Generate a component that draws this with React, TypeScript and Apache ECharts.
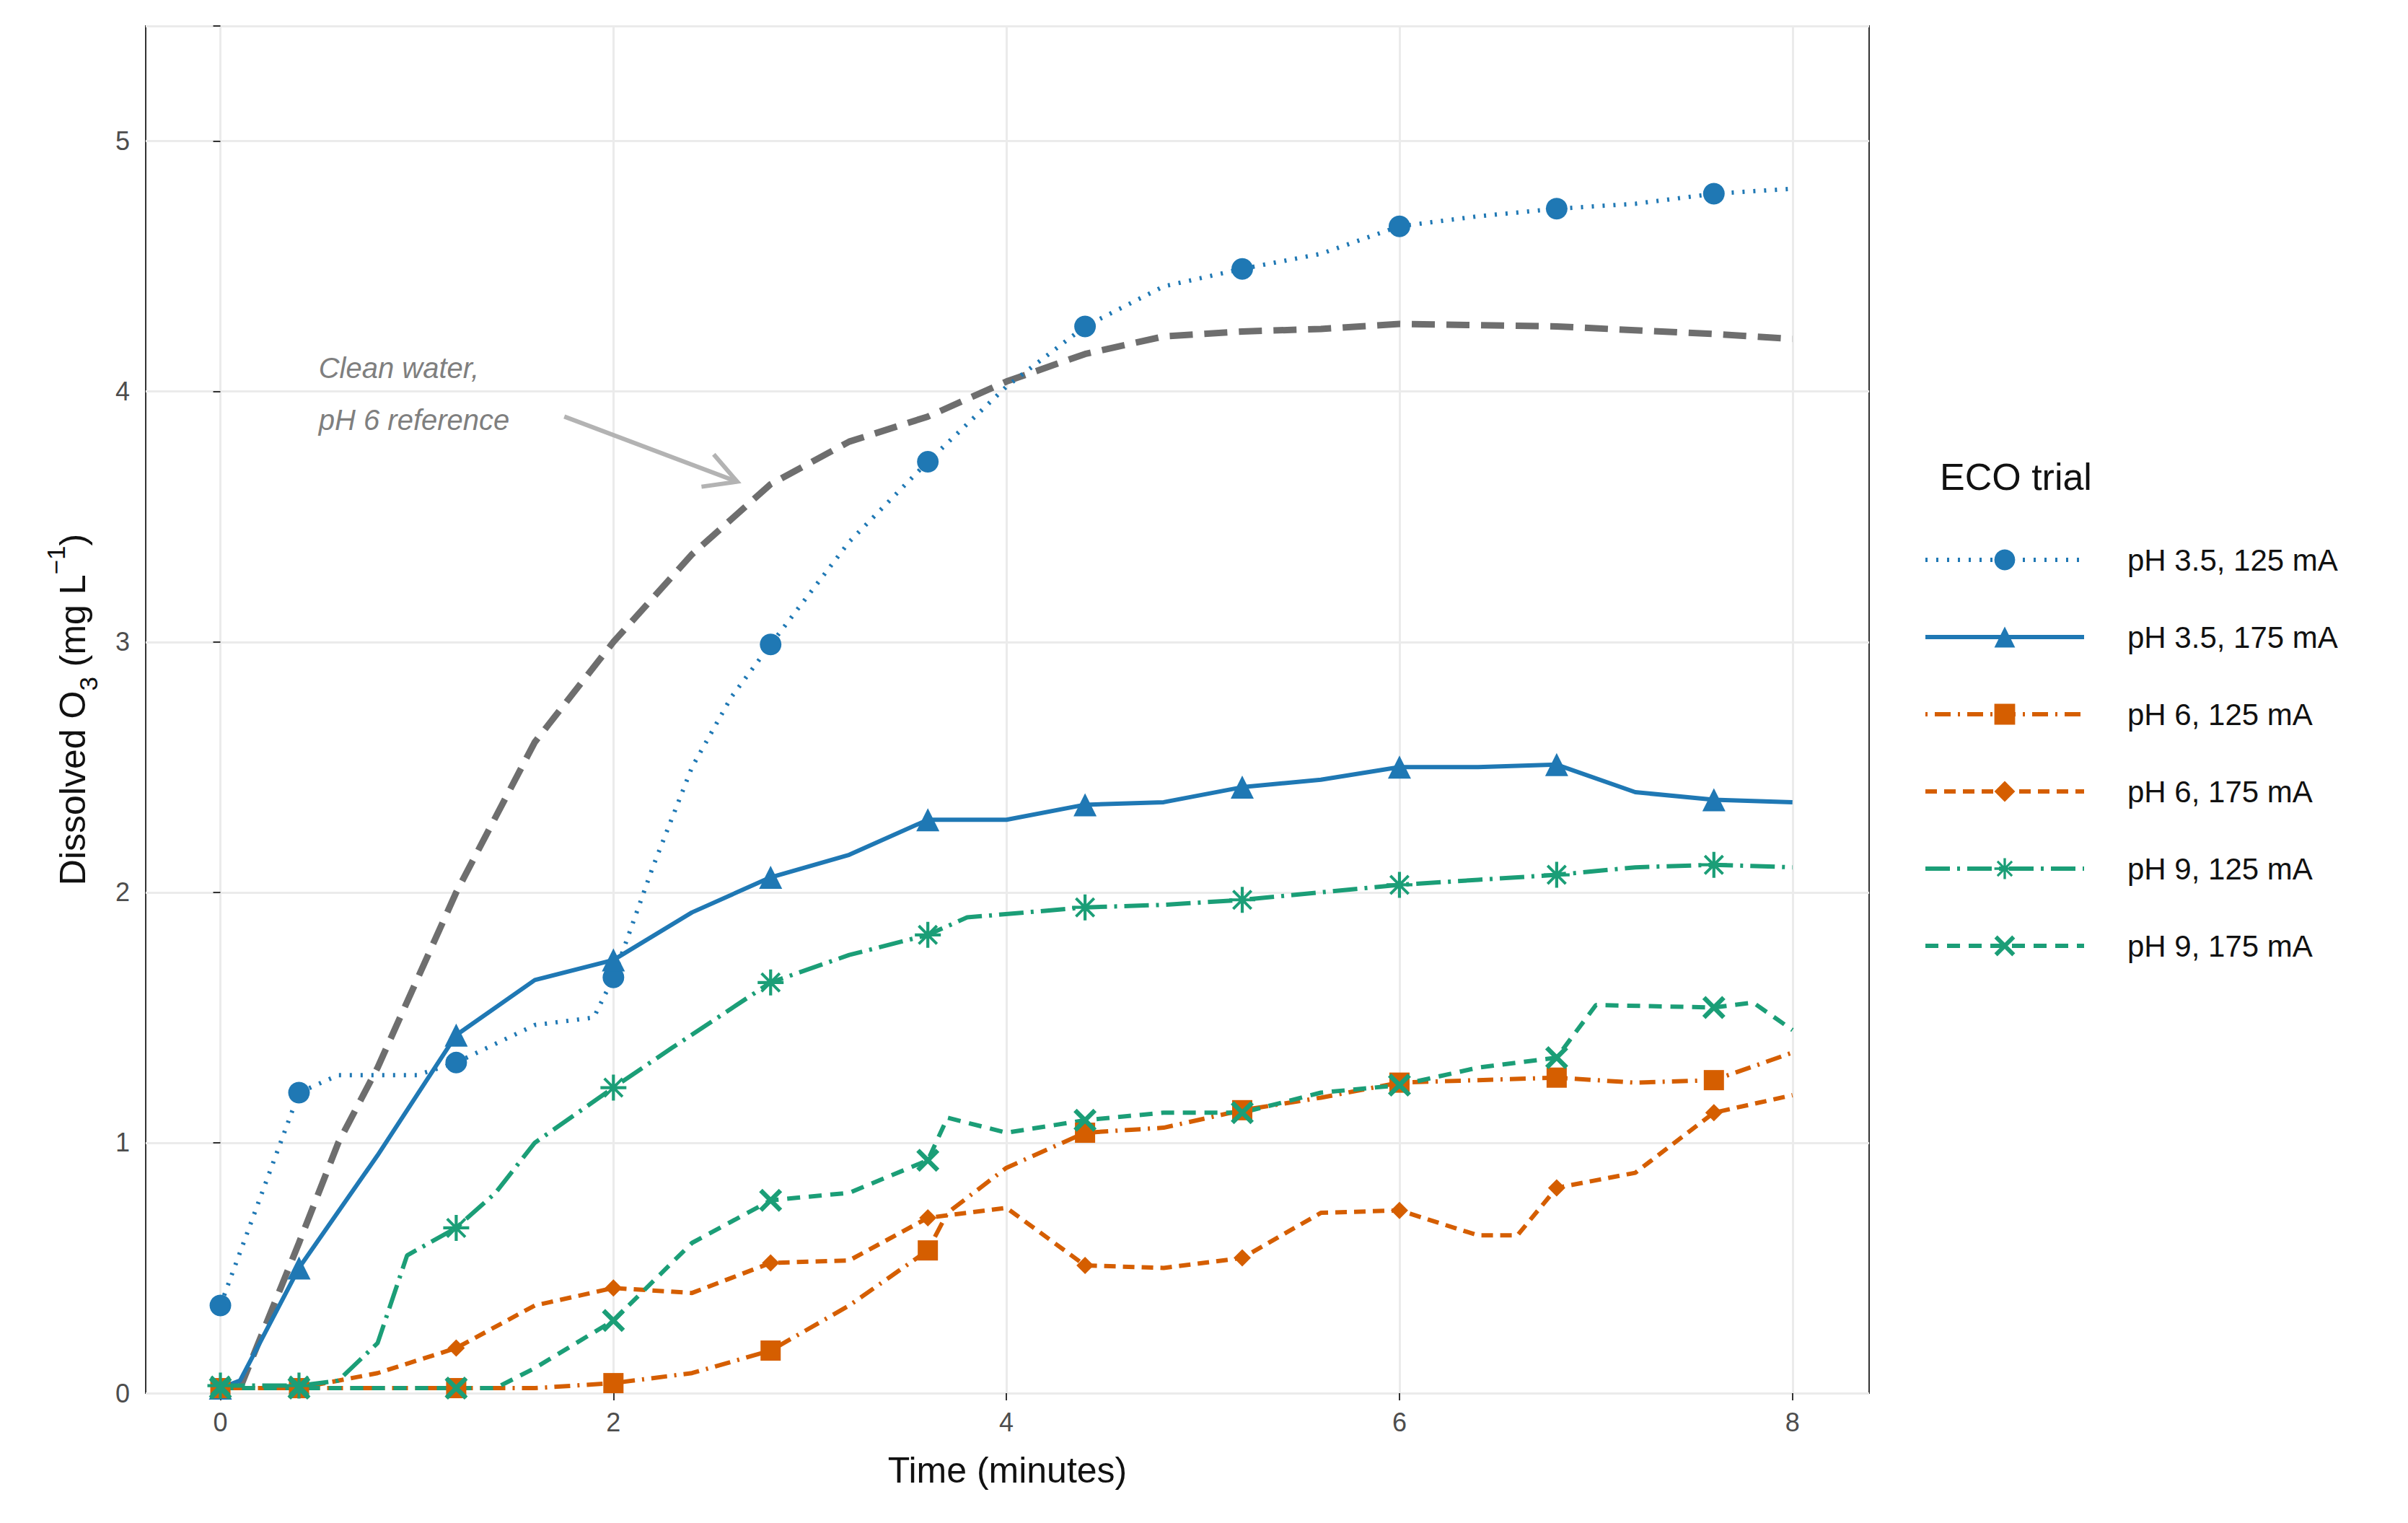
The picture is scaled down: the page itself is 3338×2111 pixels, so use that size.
import React, { useEffect, useRef } from "react";
import * as echarts from "echarts";

// data: [time (min), dissolved O3 (mg/L)]
const markerTimes = [0, 0.4, 1.2, 2, 2.8, 3.6, 4.4, 5.2, 6, 6.8, 7.6];
const cleanWater = [[0.1, 0.02], [0.4, 0.6], [0.6, 1.0], [0.8, 1.3], [1.2, 2.0], [1.6, 2.6], [2.0, 3.0], [2.4, 3.35], [2.8, 3.63], [3.2, 3.8], [3.6, 3.9], [4.0, 4.04], [4.4, 4.15], [4.8, 4.22], [5.2, 4.24], [5.6, 4.25], [6.0, 4.27], [6.8, 4.26], [7.6, 4.23], [8, 4.21]];
const ph35_125 = [[0, 0.35], [0.4, 1.2], [0.6, 1.27], [1.0, 1.27], [1.2, 1.32], [1.6, 1.47], [1.9, 1.5], [2, 1.66], [2.2, 2.1], [2.4, 2.5], [2.6, 2.78], [2.8, 2.99], [3.2, 3.4], [3.6, 3.72], [4.0, 4.02], [4.4, 4.26], [4.8, 4.42], [5.2, 4.49], [5.6, 4.55], [6, 4.66], [6.4, 4.7], [6.8, 4.73], [7.2, 4.75], [7.6, 4.79], [8, 4.81]];
const ph35_175 = [[0, 0.02], [0.1, 0.05], [0.4, 0.5], [0.8, 0.95], [1.2, 1.43], [1.6, 1.65], [2.0, 1.73], [2.4, 1.92], [2.8, 2.06], [3.2, 2.15], [3.6, 2.29], [4.0, 2.29], [4.4, 2.35], [4.8, 2.36], [5.2, 2.42], [5.6, 2.45], [6.0, 2.5], [6.4, 2.5], [6.8, 2.51], [7.2, 2.4], [7.6, 2.37], [8, 2.36]];
const ph6_125 = [[0, 0.02], [0.4, 0.02], [1.2, 0.02], [1.6, 0.02], [2, 0.04], [2.4, 0.08], [2.8, 0.17], [3.2, 0.35], [3.6, 0.57], [3.7, 0.72], [4.0, 0.9], [4.4, 1.04], [4.8, 1.06], [5.2, 1.13], [5.6, 1.18], [6.0, 1.24], [6.4, 1.25], [6.8, 1.26], [7.2, 1.24], [7.6, 1.25], [8, 1.36]];
const ph6_175 = [[0, 0.02], [0.4, 0.02], [0.8, 0.08], [1.2, 0.18], [1.6, 0.35], [2.0, 0.42], [2.4, 0.4], [2.8, 0.52], [3.2, 0.53], [3.6, 0.7], [4.0, 0.74], [4.4, 0.51], [4.8, 0.5], [5.2, 0.54], [5.6, 0.72], [6.0, 0.73], [6.4, 0.63], [6.6, 0.63], [6.8, 0.82], [7.2, 0.88], [7.6, 1.12], [8, 1.19]];
const ph9_125 = [[0, 0.03], [0.4, 0.03], [0.6, 0.05], [0.8, 0.2], [0.95, 0.55], [1.2, 0.66], [1.4, 0.8], [1.6, 1.0], [2.0, 1.22], [2.3, 1.38], [2.8, 1.64], [3.2, 1.75], [3.6, 1.83], [3.8, 1.9], [4.4, 1.94], [4.8, 1.95], [5.2, 1.97], [5.6, 2.0], [6.0, 2.03], [6.4, 2.05], [6.8, 2.07], [7.2, 2.1], [7.6, 2.11], [8, 2.1]];
const ph9_175 = [[0, 0.02], [0.4, 0.02], [1.2, 0.02], [1.4, 0.02], [1.6, 0.1], [2.0, 0.29], [2.4, 0.6], [2.8, 0.77], [3.2, 0.8], [3.6, 0.93], [3.7, 1.1], [4.0, 1.04], [4.4, 1.09], [4.8, 1.12], [5.2, 1.12], [5.6, 1.2], [6.0, 1.23], [6.4, 1.3], [6.8, 1.34], [7.0, 1.55], [7.6, 1.54], [7.8, 1.56], [8, 1.45]];

const BLUE = "#1F78B4";
const ORANGE = "#D55E00";
const GREEN = "#1B9E77";

const X_SYM = "path://M-3.54,-4.95L4.95,3.54L3.54,4.95L-4.95,-3.54Z M3.54,-4.95L4.95,-3.54L-3.54,4.95L-4.95,3.54Z";
const AST_SYM = "path://M-0.7,-6L0.7,-6L0.7,6L-0.7,6Z M-6,-0.7L6,-0.7L6,0.7L-6,0.7Z " +
  "M-3.74,-4.67L4.67,3.74L3.74,4.67L-4.67,-3.74Z M3.74,-4.67L4.67,-3.74L-3.74,4.67L-4.67,3.74Z";

const withMarkers = (pts: number[][]) =>
  pts.map((p) =>
    markerTimes.some((t) => Math.abs(t - p[0]) < 1e-6) ? { value: p } : { value: p, symbol: "none" }
  );

const App = () => {
  const chartRef = useRef<HTMLDivElement>(null);

  useEffect(() => {
    const chart = echarts.init(chartRef.current!, null, { renderer: "svg" });
    const font = "Arial, Liberation Sans, sans-serif";
    const mk = (name: string, data: number[][], color: string, type: any, symbol: string, size: number) => ({
      name,
      type: "line",
      data: withMarkers(data),
      symbol,
      symbolSize: size,
      showSymbol: true,
      lineStyle: { color, width: 6, type },
      itemStyle: { color, borderWidth: 0 },
      z: 3,
    });
    const option: any = {
      animation: false,
      textStyle: { fontFamily: font },
      grid: { left: 202, right: 747, top: 36, bottom: 180, show: true, borderColor: "#333", borderWidth: 2 },
      xAxis: {
        type: "value", min: -0.38, max: 8.39, interval: 2,
        name: "Time (minutes)", nameLocation: "middle", nameGap: 82,
        nameTextStyle: { fontSize: 50, color: "#111" },
        axisLabel: { fontSize: 36, color: "#4d4d4d", margin: 22, customValues: [0, 2, 4, 6, 8] },
        axisTick: { customValues: [0, 2, 4, 6, 8], length: 10, lineStyle: { color: "#333", width: 2 } },
        axisLine: { show: false },
        splitLine: { lineStyle: { color: "#EBEBEB", width: 3 } },
      },
      yAxis: {
        type: "value", min: 0, max: 5.46, interval: 1,
        name: "{a|Dissolved O}{sub|3}{a| (mg L}{sup|−1}{a|)}", nameLocation: "middle", nameGap: 76,
        nameTextStyle: {
          rich: {
            a: { fontSize: 50, color: "#111", fontFamily: font },
            sub: { fontSize: 35, color: "#111", verticalAlign: "bottom", padding: [0, 0, -14, 0], fontFamily: font },
            sup: { fontSize: 35, color: "#111", verticalAlign: "top", padding: [-16, 0, 0, 0], fontFamily: font },
          },
        },
        axisLabel: { fontSize: 36, color: "#4d4d4d", margin: 22, formatter: (v: number) => (v > 5 ? "" : String(v)) },
        axisTick: { show: true, length: 10, lineStyle: { color: "#333", width: 2 } },
        axisLine: { show: false },
        splitLine: { lineStyle: { color: "#EBEBEB", width: 3 } },
      },
      legend: {
        orient: "vertical", left: 2661, top: 750, itemWidth: 220, itemHeight: 36, itemGap: 65,
        data: ["pH 3.5, 125 mA", "pH 3.5, 175 mA", "pH 6, 125 mA", "pH 6, 175 mA", "pH 9, 125 mA", "pH 9, 175 mA"],
        lineStyle: { width: 6 },
        textStyle: { fontSize: 42, color: "#111", padding: [0, 0, 0, 55] },
      },
      series: [
        {
          name: "Clean water", type: "line", data: cleanWater, showSymbol: false, symbol: "none",
          lineStyle: { color: "#6E6E6E", width: 9, type: [32, 16] }, z: 2,
        },
        mk("pH 3.5, 125 mA", ph35_125, BLUE, [3, 12], "circle", 30),
        mk("pH 3.5, 175 mA", ph35_175, BLUE, "solid", "triangle", 32),
        mk("pH 6, 125 mA", ph6_125, ORANGE, [3, 10, 22, 10], "rect", 28),
        mk("pH 6, 175 mA", ph6_175, ORANGE, [16, 10], "diamond", 24),
        mk("pH 9, 125 mA", ph9_125, GREEN, [34, 10, 4, 10], AST_SYM, 36),
        mk("pH 9, 175 mA", ph9_175, GREEN, [18, 12], X_SYM, 32),
      ],
    };
    chart.setOption(option);

    // annotation arrow placed in data coordinates
    const from = chart.convertToPixel({ gridIndex: 0 }, [1.75, 3.9]) as number[];
    const to = chart.convertToPixel({ gridIndex: 0 }, [2.63, 3.64]) as number[];
    const ang = Math.atan2(to[1] - from[1], to[0] - from[0]);
    const head = 50;
    const p1 = [to[0] - head * Math.cos(ang - 0.5), to[1] - head * Math.sin(ang - 0.5)];
    const p2 = [to[0] - head * Math.cos(ang + 0.5), to[1] - head * Math.sin(ang + 0.5)];
    const txt = chart.convertToPixel({ gridIndex: 0 }, [0.5, 3.99]) as number[];
    chart.setOption({
      graphic: [
        { type: "line", shape: { x1: from[0], y1: from[1], x2: to[0], y2: to[1] }, style: { stroke: "#B3B3B3", lineWidth: 6 }, z: 10 },
        { type: "polyline", shape: { points: [p1, to, p2] }, style: { stroke: "#B3B3B3", lineWidth: 6, fill: null }, z: 10 },
        {
          type: "text", x: txt[0], y: txt[1], z: 10,
          style: { text: "Clean water,\npH 6 reference", fill: "#7F7F7F", font: `italic 40px ${font}`, lineHeight: 72, verticalAlign: "middle" },
        },
        { type: "text", left: 2689, top: 635, style: { text: "ECO trial", fill: "#111", font: `52px ${font}` } },
      ],
    });
    return () => chart.dispose();
  }, []);

  return <div ref={chartRef} style={{ position: "fixed", left: 0, top: 0, width: 3338, height: 2111, background: "#fff" }} />;
};
export default App;
